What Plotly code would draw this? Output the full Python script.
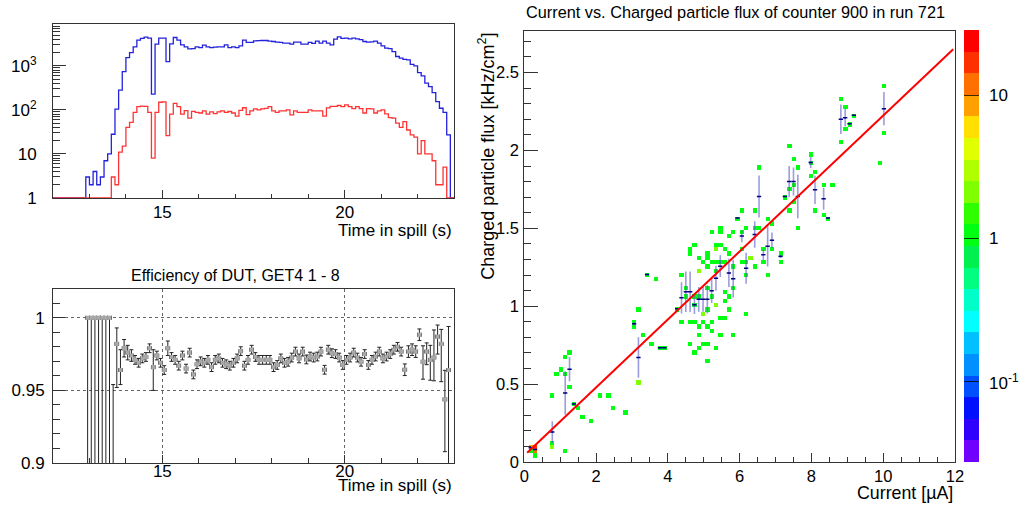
import numpy as np
import plotly.graph_objects as go

W, H = 1019, 509
FONT = "Liberation Sans, Arial, sans-serif"

# ---------------- data: time-in-spill histograms (0.1 s bins from 12.0 s) ----------------
bin_start = np.round(np.arange(12.0, 23.0, 0.1), 2)
blue_counts = ([0] * 9 +
               [3, 2, 4, 2, 3, 7, 10, 28, 104, 280] +
               [740, 1540, 1990, 2700, 3840, 4200, 4480, 4250, 228, 3100] +
               [4250, 4250, 1250, 3150, 4400, 3840, 3000, 2700, 2430, 2470] +
               [2700, 2600, 2950, 2700, 2600, 2650, 2700, 2700, 3000, 2600] +
               [2700, 2600, 2850, 3840, 3400, 3400, 3700, 3750, 3760, 3760] +
               [3630, 3570, 3450, 3400, 3280, 3280, 3100, 3450, 3450, 3100] +
               [3100, 3400, 3250, 3630, 3280, 3630, 3280, 3000, 4040, 4560] +
               [4200, 4250, 4100, 4250, 4100, 3950, 3570, 3450, 3500, 3630] +
               [3280, 2850, 2520, 2450, 2110, 1630, 1490, 1400, 1370, 1080] +
               [1000, 705, 590, 405, 339, 247, 154, 109, 88, 27] +
               [0])
red_counts = ([0] * 16 +
              [3, 2, 11, 15, 40, 52, 88, 119, 122, 120] +
              [88, 8, 88, 149, 152, 26, 80, 140, 119, 80] +
              [96, 65, 93, 88, 85, 95, 80, 90, 82, 90] +
              [95, 88, 92, 85, 72, 98, 112, 78, 95, 105] +
              [100, 105, 108, 119, 95, 88, 95, 95, 100, 77] +
              [95, 88, 88, 88, 100, 95, 95, 95, 72, 111] +
              [120, 120, 126, 119, 130, 119, 107, 119, 107, 85] +
              [107, 105, 85, 95, 100, 81, 67, 65, 50, 40] +
              [54, 35, 27, 24, 10, 20, 10, 10, 7, 2] +
              [2, 5, 1, 0])

# ---------------- data: efficiency per 0.1 s bin, bins from 12.9 s ----------------
eff_first_bin = 12.9
eff_values = ([1.0] * 7 + [0.893] +
              [0.982, 0.964, 0.979, 0.976, 0.974, 0.971, 0.969, 0.972, 0.973, 0.979] +
              [0.966] +
              [0.974, 0.969, 0.964, 0.979, 0.973, 0.971, 0.967, 0.974, 0.965, 0.976,
               0.961, 0.968, 0.970, 0.969, 0.971, 0.966, 0.971, 0.972, 0.969, 0.968,
               0.967, 0.969, 0.972, 0.977, 0.967, 0.971, 0.978, 0.973, 0.971, 0.971,
               0.971, 0.971] +
              [0.966, 0.9675, 0.972, 0.969, 0.9697, 0.9726, 0.9767, 0.972, 0.9767, 0.9713,
               0.9733, 0.9726, 0.9733, 0.9767, 0.9642, 0.978, 0.9756, 0.975, 0.9726, 0.9675,
               0.971, 0.9726, 0.976, 0.9726, 0.9697, 0.975, 0.9675, 0.971, 0.9733, 0.9767,
               0.972, 0.9733, 0.975, 0.978, 0.980, 0.9767, 0.9642, 0.9767, 0.978, 0.9767,
               0.9883] +
              [0.9697, 0.9767, 0.971, 0.9726, 0.987, 0.982, 0.9438, 0.964])
eff_err_up = ([0.0] * 7 + [0.061, 0.011, 0.014, 0.006, 0.005, 0.004] + [0.003] * 5 + [0.012] +
              [0.003] * 3 + [0.005] + [0.003] * 28 + [0.003] * 36 + [0.004] * 5 +
              [0.011, 0.006, 0.010, 0.019, 0.008, 0.010, 0.020, 0.030])
eff_err_dn = ([0.2] * 7 + [0.1, 0.030, 0.010, 0.006, 0.005, 0.004] + [0.003] * 5 + [0.016] +
              [0.003] * 3 + [0.005] + [0.003] * 28 + [0.003] * 36 + [0.004] * 5 +
              [0.012, 0.009, 0.014, 0.016, 0.012, 0.026, 0.036, 0.1])

# ---------------- data: current vs flux 2D histogram cells ----------------
cell_x = [0.18, 0.30, 0.30, 0.18, 0.30,
          0.78, 0.78, 0.78, 0.90, 1.02, 1.14, 1.14, 1.26, 1.26, 1.14, 1.38, 1.50, 1.62, 1.86,
          2.10, 2.34, 2.46, 2.82, 3.06, 3.06, 3.18, 3.18, 3.30, 3.42, 3.54, 3.66, 3.78, 3.90,
          4.26, 4.38, 4.38, 4.50, 4.50, 4.62, 4.62, 4.62, 4.62, 4.74, 4.74, 4.74, 4.74, 4.74,
          4.86, 4.86, 4.86, 4.86, 4.86, 4.86, 4.98, 4.98, 4.98, 4.98,
          5.10, 5.10, 5.10, 5.10, 5.10, 5.10, 5.10, 5.10, 5.22, 5.22, 5.22, 5.22, 5.22,
          5.34, 5.34, 5.34, 5.34, 5.34, 5.34, 5.46, 5.46, 5.46, 5.46, 5.46, 5.46,
          5.58, 5.58, 5.58, 5.58, 5.58, 5.70, 5.70, 5.70, 5.70, 5.82, 5.82, 5.82, 5.82,
          5.94, 6.06, 6.06, 6.06, 6.06, 6.18, 6.18, 6.18, 6.18, 6.30, 6.42, 6.42, 6.42,
          6.54, 6.54, 6.66, 6.66, 6.78, 6.78, 6.90, 6.90, 7.14, 7.14, 7.26,
          7.38, 7.38, 7.38, 7.50, 7.50, 7.50, 7.62, 7.62, 7.98, 7.98, 7.98, 8.10, 8.10,
          8.34, 8.34, 8.46, 8.58, 8.82, 8.82, 8.94, 8.94, 9.06, 9.18, 9.90, 10.02, 10.02]
cell_y = [0.097, 0.097, 0.069, 0.069, 0.041,
          0.43, 0.128, 0.096, 0.569, 0.596, 0.677, 0.569, 0.703, 0.486, 0.07, 0.373, 0.345, 0.294, 0.266,
          0.43, 0.43, 0.345, 0.32, 0.895, 0.873, 0.984, 0.511, 0.816, 1.203, 0.76, 1.176, 0.733, 0.733,
          0.984, 1.203, 0.899, 1.118, 1.065, 1.367, 1.338, 0.899, 0.76, 1.395, 0.899, 0.703, 1.007, 1.065,
          1.31, 1.229, 1.065, 0.873, 0.816, 0.733, 1.284, 0.958, 0.899, 0.76,
          1.338, 1.31, 1.257, 1.118, 0.984, 0.873, 0.76, 0.65, 1.48, 1.284, 1.065, 0.899, 0.846,
          1.395, 1.284, 1.229, 1.016, 0.733, 1.367, 1.506, 1.48, 1.395, 1.284, 0.931, 0.816,
          1.367, 1.284, 1.097, 1.044, 0.931, 1.453, 1.342, 0.984, 1.065, 1.48, 1.257, 1.118, 0.816,
          1.566, 1.62, 1.48, 1.367, 1.284, 1.506, 1.284, 1.203, 0.958, 1.31, 1.62, 1.506, 1.257,
          1.896, 1.506, 1.367, 1.284, 1.566, 1.203, 1.538, 1.367, 1.338, 1.284, 1.704,
          2.034, 1.757, 1.62, 1.949, 1.789, 1.673, 1.896, 1.506, 1.981, 1.923, 1.838, 1.864, 1.62,
          1.785, 1.593, 1.566, 1.785, 2.337, 2.062, 2.283, 2.147, 2.172, 2.226, 1.923, 2.417, 2.115]
cell_n = [8, 20, 12, 1, 1,
          1, 1, 2, 1, 1, 1, 1, 1, 1, 1, 1, 1, 1, 1,
          1, 1, 1, 1, 1, 1, 1, 2, 1, 1, 1, 1, 1, 1,
          1, 1, 1, 1, 1, 1, 1, 1, 1, 1, 1, 1, 1, 1,
          1, 2, 1, 1, 1, 1, 1, 2, 1, 1,
          1, 1, 1, 1, 1, 1, 1, 1, 1, 1, 1, 1, 1,
          1, 1, 1, 2, 1, 2, 1, 1, 1, 1, 1, 1,
          1, 1, 1, 1, 1, 1, 1, 1, 1, 1, 1, 1, 1,
          1, 1, 1, 1, 1, 1, 1, 1, 1, 2, 1, 1, 1,
          1, 1, 1, 1, 1, 1, 1, 1, 1, 1, 1,
          1, 1, 1, 1, 1, 1, 1, 1, 1, 1, 1, 1, 1,
          1, 1, 1, 1, 1, 1, 1, 1, 1, 1, 1, 1, 1]

# profile (mean flux per current bin)
prof_x = [0.18, 0.30, 0.78, 1.14, 1.26, 1.38, 3.06, 3.18, 3.42, 3.78, 3.90, 4.26, 4.38, 4.50, 4.62,
          4.74, 4.86, 4.98, 5.10, 5.22, 5.34, 5.46, 5.70, 5.82, 5.94, 6.06, 6.18, 6.42, 6.54, 6.66,
          6.78, 6.90, 7.14, 7.26, 7.38, 7.50, 7.62, 7.98, 8.10, 8.34, 8.46, 8.82, 8.94, 9.06, 9.18, 10.02]
prof_y = [0.092, 0.080, 0.192, 0.443, 0.596, 0.373, 0.888, 0.671, 1.203, 0.733, 0.733, 0.984, 1.054, 1.093, 1.093,
          1.01, 1.044, 1.044, 1.044, 1.10, 1.18, 1.257, 1.214, 1.176, 1.566, 1.45, 1.244, 1.46, 1.704, 1.331,
          1.385, 1.423, 1.32, 1.704, 1.80, 1.80, 1.704, 1.923, 1.747, 1.69, 1.566, 2.2, 2.21, 2.172, 2.226, 2.268]
prof_err = [0.006, 0.008, 0.07, 0.14, 0.078, 0.005, 0.01, 0.13, 0.005, 0.005, 0.005, 0.005, 0.1, 0.13, 0.13,
            0.06, 0.08, 0.08, 0.09, 0.08, 0.08, 0.07, 0.09, 0.12, 0.005, 0.04, 0.1, 0.085, 0.135, 0.035,
            0.13, 0.05, 0.01, 0.005, 0.1, 0.09, 0.14, 0.035, 0.09, 0.07, 0.005, 0.095, 0.057, 0.005, 0.005, 0.107]

# linear fit line end points
fit_x = [0.08, 11.95]
fit_y = [0.06, 2.65]

# colour palette bands (bottom -> top) and colour-axis labels
palette = ["#7000ff", "#3000ff", "#0010ff", "#0050ff", "#0090ff", "#00c0ff", "#00ffff",
           "#00ffc8", "#00ff80", "#00f050", "#00ff10", "#30ff00", "#80ff00", "#b0ff00",
           "#e0ff00", "#ffe000", "#ffa000", "#ff7000", "#ff3000", "#ff0000"]
z_lo, z_hi = -1.56, 1.456  # log10 of colour range
cb_major = [-1, 0, 1]
cb_labels = ["10<sup>-1</sup>", "1", "10"]

# ---------------- layout geometry (pixels) ----------------
TL = dict(l=53, r=454, t=24, b=198)          # top-left frame
BL = dict(l=53, r=454, t=289, b=463)         # bottom-left frame
RP = dict(l=524.3, r=955, t=30.5, b=462)     # right frame
CB = dict(l=964, w=15)                       # colour bar

fig = go.Figure()


def px_x(p):
    return p / W


def px_y(p):
    return 1 - p / H


# top-left histograms
edges = list(bin_start) + [23.0]
for cnt, col in ((blue_counts, "#2222dd"), (red_counts, "#ff3333")):
    yy = [max(c, 1) for c in cnt]
    fig.add_trace(go.Scatter(x=edges, y=yy + [yy[-1]], mode="lines", line=dict(color=col, width=1.3, shape="hv"),
                             xaxis="x", yaxis="y", showlegend=False, hoverinfo="skip"))

# efficiency
eff_x = [round(eff_first_bin + 0.05 + 0.1 * i, 3) for i in range(len(eff_values))]
fig.add_trace(go.Scatter(x=eff_x, y=eff_values, mode="markers", xaxis="x2", yaxis="y2",
                         marker=dict(symbol="square", size=4, color="#a8a8a8"),
                         error_y=dict(type="data", symmetric=False, array=eff_err_up, arrayminus=eff_err_dn,
                                      color="#222222", thickness=1, width=2),
                         error_x=dict(type="constant", value=0.05, color="#222222", thickness=1, width=2),
                         showlegend=False, hoverinfo="skip"))

# 2D histogram grid built from the cell lists
nx, ny = 100, 100
xw, yw = 0.12, 0.0276
counts = np.zeros((ny, nx))
for cx, cy, n in zip(cell_x, cell_y, cell_n):
    counts[int(cy // yw), int(cx // xw)] += n
z = np.where(counts > 0, np.log10(np.where(counts > 0, counts, 1)), np.nan)
xc = (np.arange(nx) + 0.5) * xw
yc = (np.arange(ny) + 0.5) * yw
cs = []
nb = len(palette)
for i, c in enumerate(palette):
    cs.append([i / nb, c])
    cs.append([(i + 1) / nb, c])

cb_y0 = px_y(RP["b"])
cb_len = (RP["b"] - RP["t"]) / H

fig.add_trace(go.Heatmap(x=xc, y=yc, z=z, colorscale=cs, zmin=z_lo, zmax=z_hi, xaxis="x3", yaxis="y3",
                         hoverongaps=False, hoverinfo="skip",
                         colorbar=dict(x=px_x(CB["l"]), xanchor="left", y=cb_y0, yanchor="bottom",
                                       len=cb_len, lenmode="fraction", thickness=CB["w"],
                                       thicknessmode="pixels", outlinewidth=0, xpad=0, ypad=0,
                                       ticks="inside", ticklen=CB["w"], tickcolor="rgba(0,0,0,0.75)", tickwidth=1,
                                       tickmode="array", tickvals=cb_major, showticklabels=False)))

fig.add_trace(go.Scatter(x=prof_x, y=prof_y, mode="markers", xaxis="x3", yaxis="y3",
                         marker=dict(size=1, color="#000080"),
                         error_y=dict(type="data", array=prof_err, color="rgba(90,90,200,0.6)", thickness=1.6, width=0),
                         error_x=dict(type="constant", value=0.06, color="#000080", thickness=1.5, width=0),
                         showlegend=False, hoverinfo="skip"))

fig.add_trace(go.Scatter(x=fit_x, y=fit_y, mode="lines", xaxis="x3", yaxis="y3",
                         line=dict(color="#ff0000", width=2), showlegend=False, hoverinfo="skip"))


def cb_pos(v):
    return cb_y0 + (v - z_lo) / (z_hi - z_lo) * cb_len


# minor ticks and labels of the colour axis
for e in (-2, -1, 0, 1):
    for m in range(2, 10):
        v = np.log10(m * 10.0 ** e)
        if z_lo <= v <= z_hi:
            fig.add_shape(type="line", xref="paper", yref="paper", x0=px_x(CB["l"] + CB["w"] - 6),
                          x1=px_x(CB["l"] + CB["w"]), y0=cb_pos(v), y1=cb_pos(v), line=dict(color="#000", width=1))
for v, t in zip(cb_major, cb_labels):
    fig.add_annotation(text=t, x=px_x(CB["l"] + CB["w"] + 8), y=cb_pos(v), xref="paper", yref="paper",
                       xanchor="left", yanchor="middle", showarrow=False,
                       font=dict(family=FONT, size=17, color="#000"))

common = dict(showline=True, mirror=True, linecolor="#333", linewidth=1, ticks="inside",
              tickcolor="#333", zeroline=False, showgrid=False, automargin=False,
              tickfont=dict(family=FONT, size=17, color="#000"))
rfont = dict(family=FONT, size=16.5, color="#000")

log_minor = [m * 10 ** e for e in range(0, 4) for m in range(2, 10) if m * 10 ** e < 9000]

fig.update_layout(
    width=W, height=H, margin=dict(l=0, r=0, t=0, b=0, autoexpand=False),
    paper_bgcolor="white", plot_bgcolor="white", showlegend=False,
    font=dict(family=FONT, color="#000"),
    xaxis=dict(domain=[px_x(TL["l"]), px_x(TL["r"])], anchor="y", range=[12, 23], tickmode="linear", tick0=0,
               dtick=5, ticklen=8, ticklabelstandoff=-1,
               minor=dict(tickmode="linear", tick0=0, dtick=1, ticklen=4, ticks="inside", tickcolor="#333"),
               **common),
    yaxis=dict(domain=[px_y(TL["b"]), px_y(TL["t"])], anchor="x", type="log", range=[0, 3.95], tickmode="array",
               tickvals=[1, 10, 100, 1000], ticktext=["1", "10", "10<sup>2</sup>", "10<sup>3</sup>"],
               ticklen=13, ticklabelstandoff=12,
               minor=dict(tickmode="array", tickvals=log_minor, ticklen=7, ticks="inside", tickcolor="#333"),
               **common),
    xaxis2=dict(domain=[px_x(BL["l"]), px_x(BL["r"])], anchor="y2", range=[12, 23], tickmode="linear", tick0=0,
                dtick=5, ticklen=8, ticklabelstandoff=-7,
                minor=dict(tickmode="linear", tick0=0, dtick=1, ticklen=5, ticks="inside", tickcolor="#333"),
                **{**common, "showgrid": True}, gridcolor="#666", griddash="dot", gridwidth=1),
    yaxis2=dict(domain=[px_y(BL["b"]), px_y(BL["t"])], anchor="x2", range=[0.9, 1.0198], tickmode="array",
                tickvals=[0.9, 0.95, 1.0], ticktext=["0.9", "0.95", "1"], ticklen=12, ticklabelstandoff=4,
                minor=dict(tickmode="linear", tick0=0.9, dtick=0.01, ticklen=7, ticks="inside", tickcolor="#333"),
                **{**common, "showgrid": True}, gridcolor="#666", griddash="dot", gridwidth=1),
    xaxis3=dict(domain=[px_x(RP["l"]), px_x(RP["r"])], anchor="y3", range=[0, 12], tickmode="linear", tick0=0,
                dtick=2, ticklen=9, ticklabelstandoff=-1,
                minor=dict(tickmode="linear", tick0=0, dtick=0.5, ticklen=5, ticks="inside", tickcolor="#333"),
                **{**common, "tickfont": rfont}),
    yaxis3=dict(domain=[px_y(RP["b"]), px_y(RP["t"])], anchor="x3", range=[0, 2.77], tickmode="linear", tick0=0,
                dtick=0.5, ticklen=14, ticklabelstandoff=1,
                minor=dict(tickmode="linear", tick0=0, dtick=0.1, ticklen=7, ticks="inside", tickcolor="#333"),
                **{**common, "tickfont": rfont}),
)

ann = [
    dict(text="Time in spill (s)", x=px_x(454), y=px_y(230.5), xanchor="right", yanchor="middle", size=17),
    dict(text="Time in spill (s)", x=px_x(454), y=px_y(485.5), xanchor="right", yanchor="middle", size=17),
    dict(text="Efficiency of DUT, GET4 1 - 8", x=px_x(235), y=px_y(275), xanchor="center", yanchor="middle", size=16),
    dict(text="Current vs. Charged particle flux of counter 900 in run 721", x=px_x(735.6), y=px_y(12),
         xanchor="center", yanchor="middle", size=16.3),
    dict(text="Current [µA]", x=px_x(RP["r"]), y=px_y(492.5), xanchor="right", yanchor="middle", size=17.8),
]
for a in ann:
    fig.add_annotation(text=a["text"], x=a["x"], y=a["y"], xref="paper", yref="paper", xanchor=a["xanchor"],
                       yanchor=a["yanchor"], showarrow=False, font=dict(family=FONT, size=a["size"], color="#000"))
fig.add_annotation(text="Charged particle flux [kHz/cm<sup>2</sup>]", x=px_x(486.5), y=px_y(30.7), xref="paper",
                   yref="paper", xanchor="center", yanchor="top", textangle=-90, showarrow=False,
                   font=dict(family=FONT, size=18, color="#000"))

fig.write_html("out.html", config={"displayModeBar": False},
               post_script="document.body.style.margin='0px';")
